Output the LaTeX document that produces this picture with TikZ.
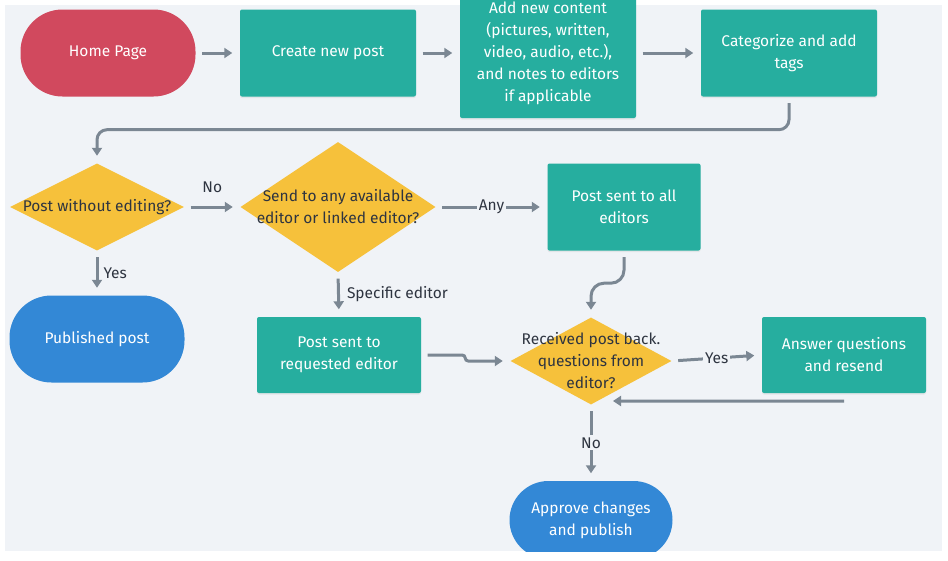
\documentclass[tikz,border=0pt]{standalone}
\usepackage{fontspec}
\setmainfont{Fira Sans}
\usetikzlibrary{shapes.geometric}
\usetikzlibrary{arrows.meta}
\usetikzlibrary{shadows}

\definecolor{homered}{HTML}{D1495E}
\definecolor{stepteal}{HTML}{26AE9F}
\definecolor{askyellow}{HTML}{F6C13B}
\definecolor{endblue}{HTML}{3388D6}
\definecolor{linegrey}{HTML}{7B8793}
\definecolor{panelgrey}{HTML}{F0F3F7}
\definecolor{labelink}{HTML}{2E3440}

\begin{document}
\begin{tikzpicture}
    [%
        x=1pt,y=-1pt,%
        font=\fontsize{15.5}{22}\selectfont,%
        terminal/.style={%
            rectangle,%
            rounded corners=42pt,%
            minimum width=175pt,%
            minimum height=87pt,%
            text=white,%
            align=center%
        },%
        process/.style={%
            rectangle,%
            rounded corners=2pt,%
            fill=stepteal,%
            text=white,%
            align=center,%
            minimum width=176pt,%
            minimum height=87pt,%
            drop shadow={shadow xshift=0pt,shadow yshift=-1.5pt,opacity=0.12}%
        },%
        decision/.style={%
            diamond,%
            fill=askyellow,%
            inner sep=0pt%
        },%
        ask text/.style={%
            text=labelink,%
            align=center%
        },%
        flow/.style={%
            draw=linegrey,%
            line width=3pt,%
            -{Triangle[length=8pt,width=10pt]},%
            shorten <=6.5pt,%
            shorten >=7.5pt%
        },%
        flow label/.style={%
            text=labelink,%
            inner sep=2pt%
        }%
    ]%
%
    \useasboundingbox (0,0) rectangle (948,560);
    \fill[white] (0,0) rectangle (948,560);
    \fill[panelgrey] (5,5) rectangle (942,551);
    \begin{scope}
    \clip (0,0) rectangle (948,551);
%
    % first row: writing the post
    \node[terminal,fill=homered] (home) at (108,53) {Home Page};
    \node[process] (create) at (328,53) {Create new post};
    \node[process,minimum height=130pt] (content) at (548,53)
        {Add new content\\ (pictures, written,\\ video, audio, etc.),\\ and notes to editors\\ if applicable};
    \node[process] (categorize) at (789,53) {Categorize and add\\ tags};
%
    % second row: editing choices
    \node[decision,minimum width=174pt,minimum height=87pt,
        label={[ask text]center:Post without editing?}] (noedit) at (97,207) {};
    \node[decision,minimum width=195pt,minimum height=130pt,
        label={[ask text]center:{Send to any available\\ editor or linked editor?}}] (anyeditor) at (338,207) {};
    \node[process,minimum width=153pt] (toall) at (624,207) {Post sent to all\\ editors};
%
    % third row: review
    \node[terminal,fill=endblue] (published) at (97,339) {Published post};
    \node[process,minimum width=164pt,minimum height=76pt] (requested) at (339,355)
        {Post sent to\\ requested editor};
    \node[decision,minimum width=161pt,minimum height=87pt,
        label={[ask text]center:{Received post back.\\ questions from\\ editor?}}] (received) at (591,361) {};
    \node[process,minimum width=164pt,minimum height=76pt] (answer) at (844,355)
        {Answer questions\\ and resend};
    \node[terminal,fill=endblue,minimum width=163pt,minimum height=78pt,rounded corners=39pt]
        (approve) at (591,520) {Approve changes\\ and publish};
%
    % straight connectors of the first row
    % \from/\to source and target nodes
    \foreach \from/\to in {home/create,create/content,content/categorize} {
        \draw[flow] (\from.east) -- (\to.west);
    } % \foreach \from/\to
%
    % back down to the first decision
    \draw[flow,rounded corners=10pt] (categorize.south) -- ++(0,33) -| (noedit.north);
%
    \draw[flow] (noedit.east) -- node[flow label,midway,yshift=20pt] {No} (anyeditor.west);
    \draw[flow] (anyeditor.east) -- node[flow label,fill=panelgrey,midway] {Any} (toall.west);
    \draw[flow] (noedit.south) -- node[flow label,midway,right=3pt] {Yes} (published.north);
    \draw[flow] (anyeditor.south) -- node[flow label,midway,right=5pt] {Specific editor} (requested.north);
%
    % into the last decision
    \draw[flow,rounded corners=3pt] (requested.east) -- ++(44,0) |- (received.west);
    \draw[flow,rounded corners=13pt] (toall.south) -- ++(0,32.5) -| (received.north);
    \draw[flow] (received.east) -- node[flow label,fill=panelgrey,midway] {Yes} (answer.west);
    \coordinate (backin) at (613,401);
    \draw[flow,shorten <=0pt,shorten >=0pt] ([yshift=-8pt]answer.south) -- (backin);
    \draw[flow] (received.south) -- node[flow label,fill=panelgrey,midway] {No} (approve.north);
    \end{scope}
\end{tikzpicture}
\end{document}
